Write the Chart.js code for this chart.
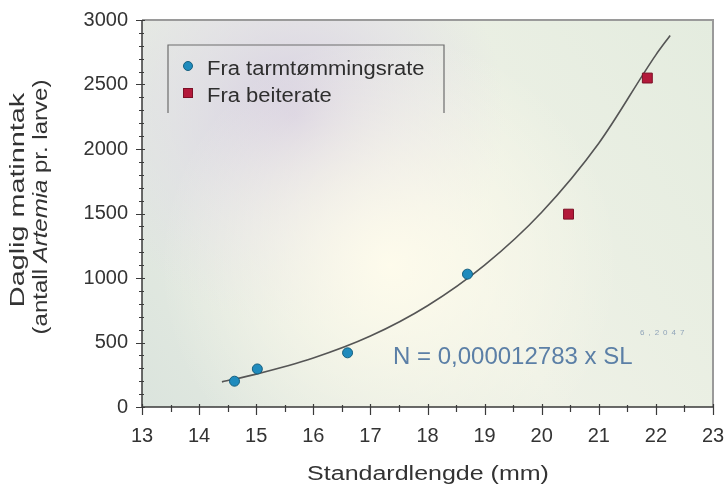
<!DOCTYPE html>
<html>
<head>
<meta charset="utf-8">
<script src="https://cdn.jsdelivr.net/npm/chart.js@4.4.1/dist/chart.umd.min.js"></script>
<style>
  html, body { margin:0; padding:0; background:#fff; }
  #wrap { width:728px; height:493px; position:relative; }
</style>
</head>
<body>
<div id="wrap"><canvas id="cv" width="728" height="493"></canvas></div>
<script>
// values
const tarmX  = [14.62, 15.02, 16.6, 18.7];
const tarmY  = [200, 295, 420, 1030];
const beiteX = [20.47, 21.85];
const beiteY = [1495, 2550];
// fitted curve
const fitX = [14.4, 15, 16, 17, 18, 19, 20, 21, 22, 22.25];
const fitY = [195, 255, 380, 550, 785, 1100, 1510, 2045, 2730, 2880];

const xMin = 13, xMax = 23, yMin = 0, yMax = 3000;
const legendLabels = ['Fra tarmtømmingsrate', 'Fra beiterate'];
const eqText  = 'N = 0,000012783 x SL';
const eqPower = '6,2047';
const xTitle  = 'Standardlengde (mm)';
const yTitle1 = 'Daglig matinntak';
const yTitle2 = ['(antall ', 'Artemia', ' pr. larve)'];

const FONT = '"Liberation Sans", Arial, sans-serif';
const BLUE = '#1f8bbd', BLUE_D = '#16607f';
const RED  = '#b3193a', RED_D = '#7c1026';

const pts = (xs, ys) => xs.map((x, i) => ({ x, y: ys[i] }));

// draw text stretched along its own direction (the source lettering is wide)
function wideText(ctx, txt, x, y, sx) {
  ctx.save();
  ctx.translate(x, y);
  ctx.scale(sx, 1);
  ctx.fillText(txt, 0, 0);
  ctx.restore();
}

const decor = {
  id: 'decor',
  beforeDatasetsDraw(chart) {
    const { ctx, chartArea: a } = chart;
    const w = a.right - a.left, h = a.bottom - a.top;
    ctx.save();
    let g = ctx.createLinearGradient(a.left, a.bottom, a.right, a.top);
    g.addColorStop(0, '#dbe4dd');
    g.addColorStop(0.5, '#eef1e6');
    g.addColorStop(1, '#e4ecdf');
    ctx.fillStyle = g;
    ctx.fillRect(a.left, a.top, w, h);
    // grey-lavender haze upper left
    g = ctx.createRadialGradient(295, 115, 0, 295, 115, 210);
    g.addColorStop(0, 'rgba(212,204,224,0.95)');
    g.addColorStop(0.6, 'rgba(222,218,230,0.5)');
    g.addColorStop(1, 'rgba(222,218,230,0)');
    ctx.fillStyle = g;
    ctx.fillRect(a.left, a.top, w, h);
    // bright cream glow
    g = ctx.createRadialGradient(390, 265, 0, 390, 265, 230);
    g.addColorStop(0, 'rgba(255,252,236,0.95)');
    g.addColorStop(1, 'rgba(255,252,236,0)');
    ctx.fillStyle = g;
    ctx.fillRect(a.left, a.top, w, h);

    ctx.strokeStyle = '#9a9a9a';
    ctx.lineWidth = 2;
    ctx.beginPath();
    ctx.moveTo(a.left, a.top); ctx.lineTo(a.right, a.top); ctx.lineTo(a.right, a.bottom);
    ctx.stroke();

    // legend frame
    ctx.strokeStyle = '#6d6d6d';
    ctx.lineWidth = 1.2;
    ctx.beginPath();
    ctx.moveTo(168, 113); ctx.lineTo(168, 45); ctx.lineTo(444, 45); ctx.lineTo(444, 113);
    ctx.stroke();
    ctx.restore();
  },
  afterDraw(chart) {
    const { ctx, chartArea: a, scales: { x, y } } = chart;
    ctx.save();
    ctx.strokeStyle = '#3a3a3a';
    ctx.lineWidth = 1.5;
    ctx.beginPath();
    ctx.moveTo(a.left, a.top); ctx.lineTo(a.left, a.bottom); ctx.lineTo(a.right, a.bottom);
    ctx.stroke();
    ctx.lineWidth = 1.2;
    ctx.beginPath();
    y.ticks.forEach(t => {
      const py = Math.round(y.getPixelForValue(t.value)) + 0.5;
      const major = t.value % 500 === 0;
      ctx.moveTo(a.left - (major ? 6 : 3), py);
      ctx.lineTo(a.left + (major ? 3 : 2), py);
    });
    x.ticks.forEach(t => {
      const px = Math.round(x.getPixelForValue(t.value)) + 0.5;
      const major = Number.isInteger(t.value);
      ctx.moveTo(px, a.bottom - (major ? 3 : 2));
      ctx.lineTo(px, a.bottom + (major ? 8 : 5));
    });
    ctx.stroke();

    // legend entries
    ctx.font = '20px ' + FONT;
    ctx.fillStyle = '#2e2e2e';
    wideText(ctx, legendLabels[0], 207, 75, 1.1);
    wideText(ctx, legendLabels[1], 207, 102, 1.1);
    ctx.fillStyle = BLUE; ctx.strokeStyle = BLUE_D; ctx.lineWidth = 1;
    ctx.beginPath(); ctx.arc(188, 66, 4.5, 0, Math.PI * 2); ctx.fill(); ctx.stroke();
    ctx.fillStyle = RED; ctx.strokeStyle = RED_D;
    ctx.fillRect(183.5, 88.5, 9, 9); ctx.strokeRect(183.5, 88.5, 9, 9);

    // equation
    ctx.font = '24px ' + FONT;
    ctx.fillStyle = '#5b7fa6';
    ctx.fillText(eqText, 393, 364);
    ctx.font = '8px ' + FONT;
    ctx.fillStyle = '#8fa3b8';
    ctx.letterSpacing = '4px';
    ctx.fillText(eqPower, 640, 335);
    ctx.letterSpacing = '0px';

    // axis titles
    ctx.fillStyle = '#333';
    ctx.font = '20px ' + FONT;
    ctx.textAlign = 'center';
    ctx.textBaseline = 'alphabetic';
    wideText(ctx, xTitle, 428, 480, 1.25);

    ctx.save();
    ctx.rotate(-Math.PI / 2);
    ctx.textBaseline = 'middle';
    ctx.font = '21px ' + FONT;
    wideText(ctx, yTitle1, -200, 18, 1.37);
    // second line, with the species name in italics
    const fonts = ['20px ' + FONT, 'italic 20px ' + FONT, '20px ' + FONT];
    const sx = 1.2;
    let w = 0;
    yTitle2.forEach((p, i) => { ctx.font = fonts[i]; w += ctx.measureText(p).width; });
    let cx = -207 - w * sx / 2;
    ctx.textAlign = 'left';
    yTitle2.forEach((p, i) => {
      ctx.font = fonts[i];
      wideText(ctx, p, cx, 41, sx);
      cx += ctx.measureText(p).width * sx;
    });
    ctx.restore();
    ctx.restore();
  }
};

new Chart(document.getElementById('cv'), {
  type: 'scatter',
  data: {
    datasets: [
      { label: legendLabels[0], data: pts(tarmX, tarmY), pointStyle: 'circle', pointRadius: 5,
        backgroundColor: BLUE, borderColor: BLUE_D, borderWidth: 1 },
      { label: legendLabels[1], data: pts(beiteX, beiteY), pointStyle: 'rect', pointRadius: 7,
        backgroundColor: RED, borderColor: RED_D, borderWidth: 1 },
      { label: 'fit', data: pts(fitX, fitY), showLine: true, pointRadius: 0,
        cubicInterpolationMode: 'monotone', borderColor: '#555', borderWidth: 1.6 }
    ]
  },
  options: {
    responsive: false,
    animation: false,
    layout: { padding: { top: 20, right: 15, left: 0, bottom: 0 } },
    plugins: { legend: { display: false }, tooltip: { enabled: false } },
    scales: {
      x: {
        type: 'linear', min: xMin, max: xMax,
        afterFit: s => { s.height = 86; s.paddingLeft = 0; s.paddingRight = 0; },
        grid: { display: false, drawTicks: false },
        border: { display: false },
        ticks: { stepSize: 0.5, autoSkip: false, maxRotation: 0, padding: 17, color: '#333',
          font: { family: FONT, size: 20 },
          callback: v => Number.isInteger(v) ? String(v) : '' }
      },
      y: {
        type: 'linear', min: yMin, max: yMax,
        afterFit: s => { s.width = 142; s.paddingTop = 0; s.paddingBottom = 0; },
        grid: { display: false, drawTicks: false },
        border: { display: false },
        ticks: { stepSize: 100, autoSkip: false, padding: 14, color: '#333',
          font: { family: FONT, size: 20 },
          callback: v => v % 500 === 0 ? String(v) : '' }
      }
    }
  },
  plugins: [decor]
});
</script>
</body>
</html>
